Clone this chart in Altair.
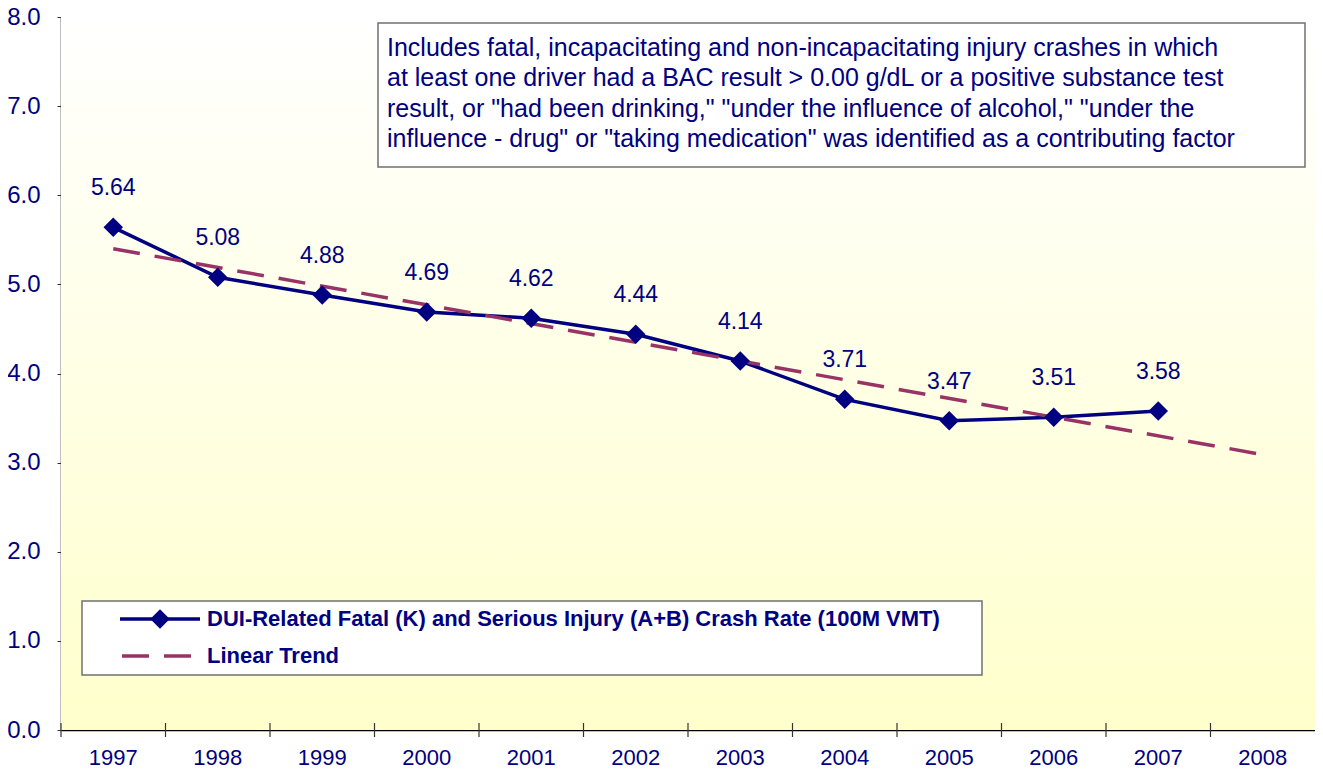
import altair as alt
import pandas as pd

years = ["1997", "1998", "1999", "2000", "2001", "2002", "2003", "2004", "2005", "2006", "2007", "2008"]
rate_years = ["1997", "1998", "1999", "2000", "2001", "2002", "2003", "2004", "2005", "2006", "2007"]
rates = [5.64, 5.08, 4.88, 4.69, 4.62, 4.44, 4.14, 3.71, 3.47, 3.51, 3.58]
trend_years = ["1997", "2008"]
trend_values = [5.40, 3.09]

note_lines = [
    "Includes fatal, incapacitating and non-incapacitating injury crashes in which",
    "at least one driver had a BAC result > 0.00 g/dL or a positive substance test",
    "result, or \"had been drinking,\" \"under the influence of alcohol,\" \"under the",
    "influence - drug\" or \"taking medication\" was identified as a contributing factor",
]
legend_labels = [
    "DUI-Related Fatal (K) and Serious Injury (A+B) Crash Rate (100M VMT)",
    "Linear Trend",
]

NAVY = "#000080"
MAROON = "#993366"
FONT = "Liberation Sans"
W, H = 1254, 713

df = pd.DataFrame({"year": rate_years, "rate": rates})
df_trend = pd.DataFrame({"year": trend_years, "rate": trend_values})
df_years = pd.DataFrame({"year": years})
one = alt.Data(values=[{}])

xscale = alt.Scale(domain=years, paddingInner=0, paddingOuter=0)
yscale = alt.Scale(domain=[0, 8], nice=False)
xaxis = alt.Axis(title=None, labelAngle=0, ticks=False, tickSize=0, domain=True,
                 domainColor="black", domainWidth=1.5,
                 labelFont=FONT, labelFontSize=22, labelColor=NAVY,
                 labelPadding=17, grid=False)
yaxis = alt.Axis(title=None, values=[0, 1, 2, 3, 4, 5, 6, 7, 8], format=".1f",
                 grid=True, gridColor="#333333", gridWidth=1.2,
                 domainColor="black", domainWidth=1.5,
                 tickColor="#333333", tickSize=4,
                 labelFont=FONT, labelFontSize=24, labelColor=NAVY,
                 labelPadding=17)


def X(**kw):
    return alt.X("year:O", scale=xscale, axis=xaxis, **kw)


def Y():
    return alt.Y("rate:Q", scale=yscale, axis=yaxis)


bg = alt.Chart(one).mark_rect(
    fill=alt.Gradient(gradient="linear", x1=0, x2=0, y1=0, y2=1,
                      stops=[alt.GradientStop(offset=0, color="#FFFFFF"),
                             alt.GradientStop(offset=1, color="#FFFFCC")])
).encode(x=alt.value(0), x2=alt.value(W), y=alt.value(0), y2=alt.value(H))

ticks = alt.Chart(df_years).mark_rule(color="#333333", strokeWidth=1.2).encode(
    x=X(bandPosition=0), y=alt.value(H - 7), y2=alt.value(H + 7))

line = alt.Chart(df).mark_line(color=NAVY, strokeWidth=3.5).encode(x=X(), y=Y())

trend = alt.Chart(df_trend).mark_line(color=MAROON, strokeWidth=3.5, strokeDash=[27, 15]).encode(
    x=X(), y=Y())

pts = alt.Chart(df).mark_point(shape="diamond", filled=True, size=380, color=NAVY, opacity=1).encode(
    x=X(), y=Y())

labels = alt.Chart(df).mark_text(font=FONT, fontSize=23, color=NAVY, dy=-39, baseline="middle").encode(
    x=X(), y=Y(), text=alt.Text("rate:Q", format=".2f"))

# note box
note_box = alt.Chart(one).mark_rect(fill="white", stroke="#707070", strokeWidth=1.5).encode(
    x=alt.value(317), x2=alt.value(1244), y=alt.value(6), y2=alt.value(150))
df_note = pd.DataFrame({"t": note_lines, "i": list(range(len(note_lines)))})
note_text = alt.Chart(df_note).mark_text(font=FONT, fontSize=25, color=NAVY, align="left",
                                         baseline="middle").encode(
    x=alt.value(326),
    y=alt.Y("i:Q", scale=alt.Scale(domain=[0, 3], range=[31, 122]), axis=None),
    text="t:N")

# legend
leg_box = alt.Chart(one).mark_rect(fill="white", stroke="#707070", strokeWidth=1.5).encode(
    x=alt.value(21), x2=alt.value(921), y=alt.value(584), y2=alt.value(658))
leg_line = alt.Chart(one).mark_rule(color=NAVY, strokeWidth=3.5).encode(
    x=alt.value(59), x2=alt.value(139), y=alt.value(602))
leg_pt = alt.Chart(one).mark_point(shape="diamond", filled=True, size=380, color=NAVY, opacity=1).encode(
    x=alt.value(99), y=alt.value(602))
leg_dash = alt.Chart(one).mark_rule(color=MAROON, strokeWidth=3.5, strokeDash=[27, 15]).encode(
    x=alt.value(61), x2=alt.value(130), y=alt.value(639))
df_leg = pd.DataFrame({"t": legend_labels, "i": [0, 1]})
leg_text = alt.Chart(df_leg).mark_text(font=FONT, fontSize=22, fontWeight="bold", color=NAVY,
                                       align="left", baseline="middle").encode(
    x=alt.value(146),
    y=alt.Y("i:Q", scale=alt.Scale(domain=[0, 1], range=[602, 639]), axis=None),
    text="t:N")

chart = alt.layer(
    bg, line, trend, pts, labels, ticks, note_box, note_text,
    leg_box, leg_line, leg_pt, leg_dash, leg_text
).resolve_scale(y="independent").properties(
    width=W, height=H,
    autosize=alt.AutoSizeParams(type="none"),
    padding={"left": 53, "top": 9, "right": 0, "bottom": 40},
).configure_view(stroke="black", strokeWidth=1.5).configure(background="white")

chart.save("out.html", embed_options={"renderer": "svg", "actions": False})
